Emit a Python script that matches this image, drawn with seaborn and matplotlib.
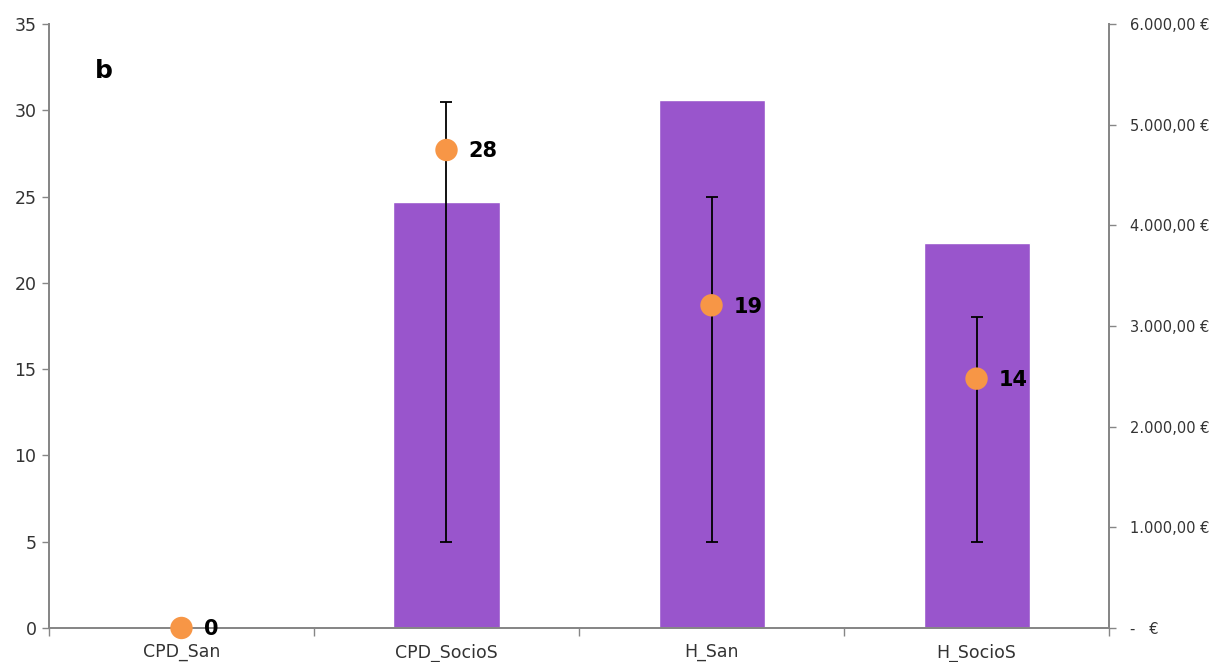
import seaborn as sns
import matplotlib.pyplot as plt
import numpy as np
import pandas as pd
from matplotlib.ticker import FuncFormatter, FixedLocator

# Data
categories = ["CPD_San", "CPD_SocioS", "H_San", "H_SocioS"]
cost_eur = [0, 4230, 5250, 3820]          # purple bars, right axis
count_mean = [0, 27.7, 18.7, 14.45]       # orange points, left axis
count_low = [np.nan, 5, 5, 5]             # error bar lower ends
count_high = [np.nan, 30.5, 25, 18]       # error bar upper ends
point_labels = ["0", "28", "19", "14"]

BAR_COLOR = "#9955CC"
POINT_COLOR = "#F79646"
AXIS_GRAY = "#868686"

sns.set_theme(style="white")
plt.rcParams["font.family"] = ["DejaVu Sans"]

fig = plt.figure(figsize=(12.15, 6.62), dpi=100)
ax = fig.add_axes([0.0403, 0.0514, 0.8725, 0.9123])
ax2 = ax.twinx()

# bars live on the euro axis, drawn underneath the points
df = pd.DataFrame({"cat": categories, "cost": cost_eur})
sns.barplot(data=df, x="cat", y="cost", color=BAR_COLOR, saturation=1,
            width=0.4, ax=ax2, errorbar=None)
ax2.set_ylim(0, 6000)
ax2.set_zorder(1)
ax.set_zorder(2)
ax.patch.set_visible(False)

# points with error bars on the count axis
xpos = np.arange(len(categories))
mean = np.array(count_mean)
yerr = np.vstack([mean - np.array(count_low), np.array(count_high) - mean])
ax.errorbar(xpos, mean, yerr=yerr, fmt="none", ecolor="black",
            elinewidth=1.3, capsize=4, capthick=1.3, zorder=3)
sns.scatterplot(x=xpos, y=mean, color=POINT_COLOR, s=260, edgecolor="none",
                ax=ax, zorder=4, legend=False, clip_on=False)
for x, y, lab in zip(xpos, mean, point_labels):
    ax.annotate(lab, (x, y), xytext=(16, -1), textcoords="offset points",
                ha="left", va="center", fontsize=15, fontweight="bold",
                color="black", zorder=5)

ax.set_xlim(-0.5, len(categories) - 0.5)
ax.set_ylim(0, 35)
ax.set_yticks(range(0, 36, 5))
ax.set_xticks(xpos)
ax.set_xticklabels(categories)
ax.xaxis.set_minor_locator(FixedLocator(np.arange(-0.5, len(categories), 1)))
ax.tick_params(axis="x", which="major", length=0, pad=11, labelsize=12.5,
               labelcolor="#333333")
ax.tick_params(axis="x", which="minor", length=6, direction="out",
               color=AXIS_GRAY, width=1, bottom=True)
ax.tick_params(axis="y", length=5, direction="out", color=AXIS_GRAY,
               width=1, labelsize=12.5, labelcolor="#333333", left=True, pad=4)
ax.set_xlabel("")
ax.set_ylabel("")

def euro(v, pos):
    if v == 0:
        return "-   €"
    s = f"{v:,.2f}".replace(",", "X").replace(".", ",").replace("X", ".")
    return s + " €"

ax2.set_yticks(range(0, 6001, 1000))
ax2.yaxis.set_major_formatter(FuncFormatter(euro))
ax2.tick_params(axis="y", length=5, direction="out", color=AXIS_GRAY,
                width=1, labelsize=10.5, labelcolor="#333333", right=True, pad=10)
ax2.set_xlabel("")
ax2.set_ylabel("")

for a in (ax, ax2):
    a.spines["top"].set_visible(False)
    for side in ("left", "right", "bottom"):
        a.spines[side].set_color(AXIS_GRAY)
        a.spines[side].set_linewidth(1.3)
    a.grid(False)

ax.text(0.043, 0.922, "b", transform=ax.transAxes, fontsize=18,
        fontweight="bold", color="black", va="center", ha="left")

fig.savefig("out.png", dpi=100)
